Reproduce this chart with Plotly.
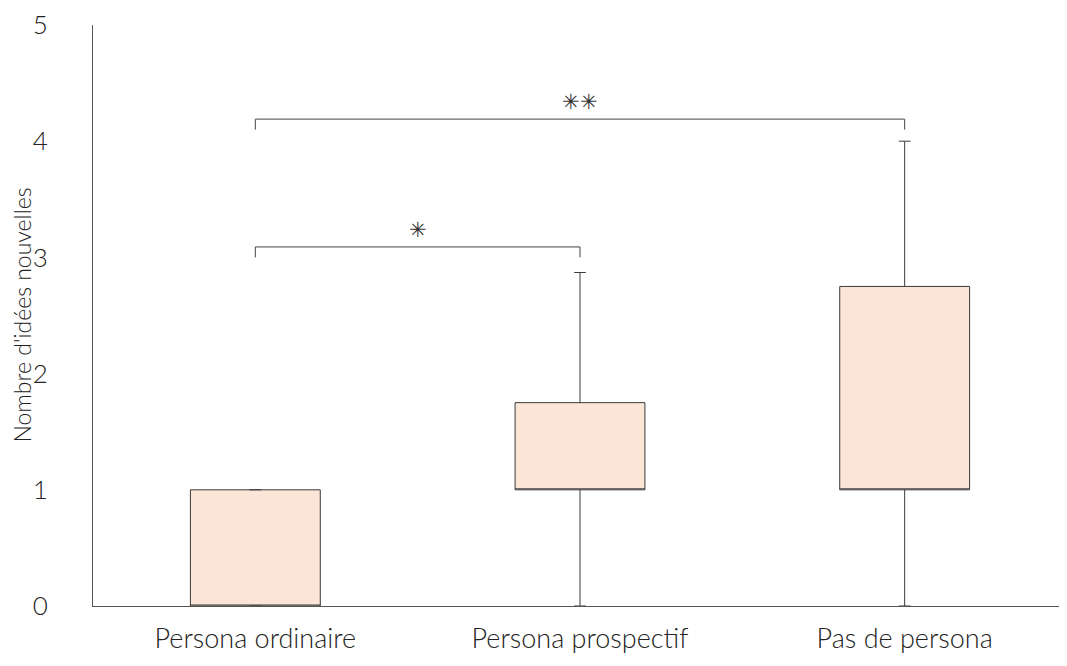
import plotly.graph_objects as go

categories = ["Persona ordinaire", "Persona prospectif", "Pas de persona"]
lower = [0, 0, 0]
q1 = [0, 1, 1]
median = [0, 1, 1]
q3 = [1, 1.75, 2.75]
upper = [1, 2.87, 4]

# significance brackets: (from category, to category, label)
comparisons = [(0, 1, "✳"), (0, 2, "✳✳")]
bracket_y = [3.09, 4.19]

FONT = "Lato, 'Open Sans', sans-serif"

fig = go.Figure()
fig.add_trace(go.Box(
    x=categories,
    q1=q1, median=median, q3=q3,
    lowerfence=lower, upperfence=upper,
    fillcolor="#FBE5D6",
    line=dict(color="#3a3a3a", width=1),
    whiskerwidth=0.09,
    boxpoints=False,
    hoverinfo="skip",
    showlegend=False,
))

for (a, b, label), y in zip(comparisons, bracket_y):
    drop = 0.09
    for x0, y0, x1, y1 in [(a, y - drop, a, y), (a, y, b, y), (b, y, b, y - drop)]:
        fig.add_shape(type="line", xref="x", yref="y", x0=x0, y0=y0, x1=x1, y1=y1,
                      line=dict(color="#444444", width=1))
    fig.add_annotation(x=(a + b) / 2, y=y, text=label, showarrow=False, yanchor="bottom",
                       yshift=3, font=dict(family="DejaVu Sans", size=21, color="#333333"))

# y axis title as a rotated annotation (axis title gets squeezed by the margin)
fig.add_annotation(xref="paper", yref="paper", x=-0.0739, y=0.5, xanchor="center", yanchor="middle",
                   text="Nombre d'idées nouvelles", textangle=-90, showarrow=False,
                   font=dict(size=23, family=FONT, weight=300, color="#222222"))

fig.update_layout(
    width=1059, height=658,
    margin=dict(l=85, r=0, t=15, b=60),
    paper_bgcolor="white", plot_bgcolor="white",
    boxgap=0.6, boxgroupgap=0,
    font=dict(family=FONT, color="#222222", weight=300),
    yaxis=dict(
        range=[0, 5], tickvals=[0, 1, 2, 3, 4, 5], showgrid=False, zeroline=False,
        showline=True, linecolor="#555555", linewidth=1, ticklabeloverflow="allow",
        ticklabelstandoff=39, tickfont=dict(size=26, family=FONT, weight=300),
    ),
    xaxis=dict(
        showgrid=False, zeroline=False, showline=True, linecolor="#555555", linewidth=1,
        ticklabelstandoff=9, tickfont=dict(size=27, family=FONT, weight=300),
    ),
)

fig.write_html("out.html")
